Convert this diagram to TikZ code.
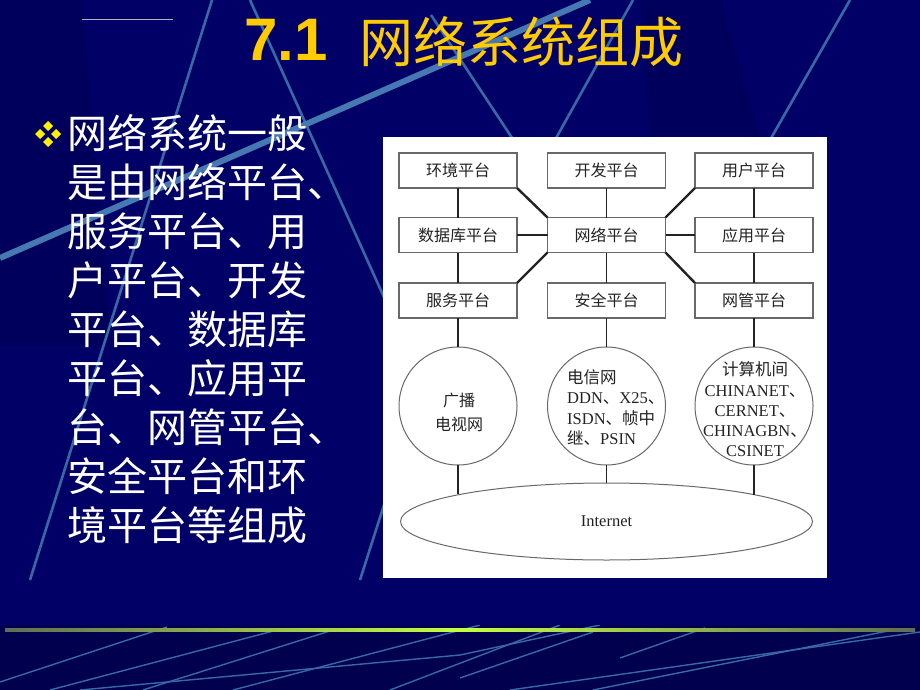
\documentclass[tikz,border=0pt]{standalone}
\usepackage{fontspec}
\setmainfont{Liberation Serif}
\newfontfamily\cjk{Noto Sans CJK SC}
\newfontfamily\arialfont{Liberation Sans}
\usetikzlibrary{shapes.geometric}
\definecolor{bg}{RGB}{0,0,102}
\definecolor{bgdark}{RGB}{0,0,78}
\definecolor{bgshade}{RGB}{0,0,92}
\definecolor{deco}{RGB}{55,105,165}
\definecolor{decolight}{RGB}{70,120,178}
\definecolor{gold}{RGB}{255,204,0}
\definecolor{ink}{RGB}{35,35,35}
\definecolor{frame}{RGB}{105,105,105}
\definecolor{lime}{RGB}{195,255,70}
\definecolor{limedim}{RGB}{95,110,85}
\newcommand\zh[1]{{\cjk #1}}
\begin{document}
\begin{tikzpicture}[x=1pt,y=-1pt,
  platform/.style={draw=frame,line width=1.1pt,fill=white,minimum width=118pt,minimum height=35pt,
    inner sep=0pt,outer sep=0pt,font=\cjk\fontsize{16}{18}\selectfont,text=ink},
  netcircle/.style={draw=frame,line width=1pt,circle,minimum size=118pt,inner sep=0pt,outer sep=0pt},
  cloud/.style={draw=frame,line width=1pt,ellipse,minimum width=412pt,minimum height=77pt,inner sep=0pt,outer sep=0pt,
    font=\fontsize{16.5}{20}\selectfont,text=ink},
  circtext/.style={inner sep=0pt,text=ink,font=\fontsize{16.5}{20.2}\selectfont},
  conn/.style={draw=ink,line width=1.8pt},
  thickconn/.style={draw=ink,line width=2.4pt},
  decoline/.style={draw=deco,line width=2.6pt},
  bottomline/.style={draw=deco,line width=1.4pt},
  bullettext/.style={inner sep=0pt,text=white,font=\cjk\fontsize{40}{44}\selectfont,anchor=west},
  diamondmark/.style={fill=yellow}
]
\useasboundingbox (0,0) rectangle (920,690);
% background
\fill[bg] (0,0) rectangle (920,690);
\fill[bgshade] (0,0) -- (82,0) -- (112,345) -- (0,345) -- cycle;
\fill[bgshade] (640,0) -- (720,0) -- (760,137) -- (650,137) -- cycle;
\fill[bgdark] (0,625) rectangle (920,690);
% decorative lines (upper)
\begin{scope}
\clip (0,0) rectangle (920,624);
\draw[decoline] (212,0) -- (30,580);
\draw[decoline] (250,0) -- (392,315);
\draw[draw=decolight,line width=6pt] (0,258) -- (590,0);
\draw[decoline] (431,15) -- (520,150);
\draw[decoline] (850,0) -- (770,140);
\draw[decoline] (633,0) -- (555,140);
\draw[decoline] (400,455) -- (360,580);
\draw[gray!60,line width=0.5pt] (82,19) -- (173,19);
\end{scope}
% decorative lines (bottom band)
\begin{scope}
\clip (0,625) rectangle (920,690);
\draw[bottomline] (0,682) -- (167,627);
\draw[bottomline] (50,690) -- (277,630);
\draw[bottomline] (80,690) -- (460,655) -- (600,625);
\draw[bottomline] (143,690) -- (333,630);
\draw[bottomline] (233,690) -- (480,625);
\draw[bottomline] (460,678) -- (593,632);
\draw[bottomline] (510,690) -- (920,632);
\draw[bottomline] (593,690) -- (893,630);
\draw[bottomline] (620,658) -- (705,628);
\draw[bottomline] (390,690) -- (560,625);
\end{scope}
% gradient rule
\shade[left color=limedim,right color=limedim,middle color=lime] (5,628.5) rectangle (915,631.5);
% title
\node[inner sep=0pt,anchor=base west,text=gold,font=\arialfont\bfseries\fontsize{60}{62}\selectfont] (tnum) at (244,61) {7.1};
\node[inner sep=0pt,anchor=west,text=gold,font=\cjk\fontsize{54}{60}\selectfont] (ttext) at (359,41.5) {网络系统组成};
% bullet
\foreach \dx/\dy in {0/-8,-8/0,8/0,0/8}
  \fill[diamondmark] ({48+\dx+5},{134+\dy}) -- ++(-5,-5) -- ++(-5,5) -- ++(5,5) -- cycle;
\foreach \s [count=\i] in {网络系统一般,是由网络平台、,服务平台、用,户平台、开发,平台、数据库,平台、应用平,台、网管平台、,安全平台和环,境平台等组成}
  \node[bullettext] (b\i) at (67,{133+49*(\i-1)}) {\s};
% white panel
\fill[white] (383,137) rectangle (827,578);
% platforms
\node[platform] (env)  at (458,170.5) {环境平台};
\node[platform] (dev)  at (606.5,170.5) {开发平台};
\node[platform] (usr)  at (754,170.5) {用户平台};
\node[platform] (db)   at (458,235) {数据库平台};
\node[platform] (core) at (606.5,235) {网络平台};
\node[platform] (app)  at (754,235) {应用平台};
\node[platform] (svc)  at (458,300.5) {服务平台};
\node[platform] (sec)  at (606.5,300.5) {安全平台};
\node[platform] (mgmt) at (754,300.5) {网管平台};
% networks
\node[netcircle] (c1) at (458,406) {};
\node[netcircle] (c2) at (606.5,406) {};
\node[netcircle] (c3) at (754,406) {};
\node[cloud] (inet) at (606.5,521.5) {Internet};
\node[circtext,align=center,font=\cjk\fontsize{16}{24}\selectfont] (c1t) at (459,412) {广播\\电视网};
\node[circtext,align=left,anchor=west] (c2t) at (567,407.5) {\zh{电信网}\\DDN\zh{、}X25\zh{、}\\ISDN\zh{、帧中}\\\zh{继、}PSIN};
\node[circtext,align=center] (c3t) at (755,409.5) {\zh{计算机间}\\CHINANET\zh{、}\\CERNET\zh{、}\\CHINAGBN\zh{、}\\CSINET};
% connectors
\draw[conn] (env.south) -- (db.north);
\draw[conn] (db.south) -- (svc.north);
\draw[conn] (svc.south) -- (c1.north);
\draw[conn] (dev.south) -- (core.north);
\draw[conn] (core.south) -- (sec.north);
\draw[conn] (sec.south) -- (c2.north);
\draw[conn] (usr.south) -- (app.north);
\draw[conn] (app.south) -- (mgmt.north);
\draw[thickconn,line width=2.2pt] (mgmt.south) -- (c3.north);
\draw[conn] (db.east) -- (core.west);
\draw[conn] (core.east) -- (app.west);
\draw[thickconn] (env.south east) -- (core.north west);
\draw[thickconn] (usr.south west) -- (core.north east);
\draw[thickconn] (svc.north east) -- (core.south west);
\draw[thickconn] (mgmt.north west) -- (core.south east);
\draw[conn,line width=1.3pt] (c1.south) -- (c1.south |- inet.169.7);
\draw[conn] (c2.south) -- (inet.north);
\draw[thickconn,line width=2.4pt] (c3.south) -- (c3.south |- inet.10.4);
\end{tikzpicture}
\end{document}
